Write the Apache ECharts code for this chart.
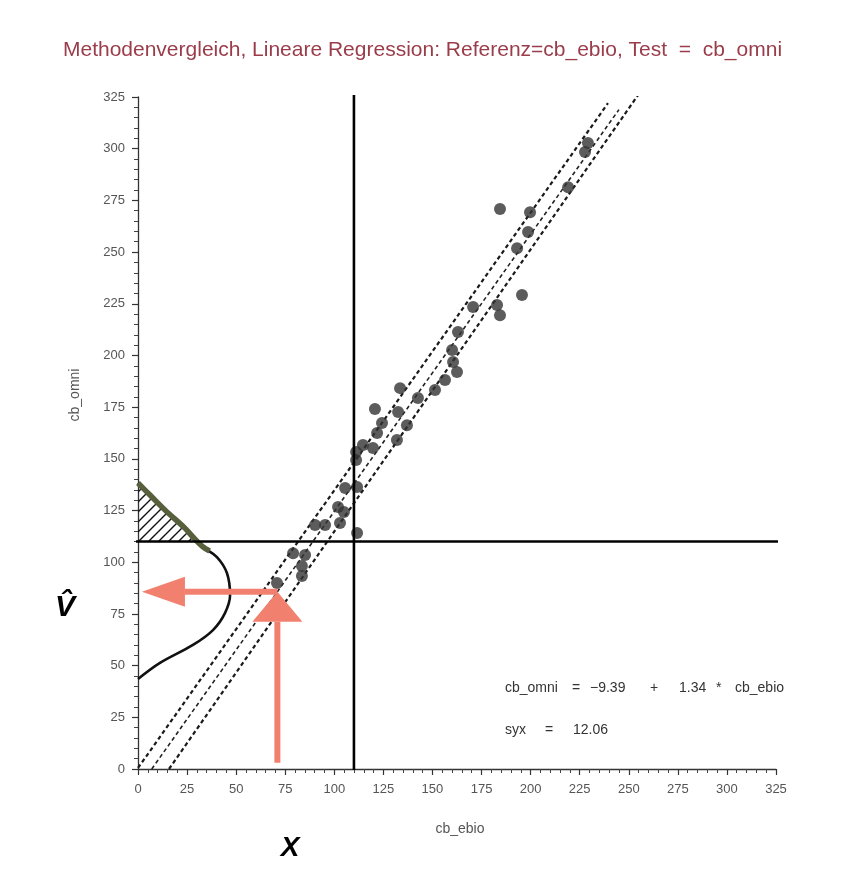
<!DOCTYPE html>
<html>
<head>
<meta charset="utf-8">
<script src="https://cdn.jsdelivr.net/npm/echarts@6/dist/echarts.min.js"></script>
<style>
  html, body { margin: 0; padding: 0; background: #fff; }
  #chart { width: 845px; height: 881px; }
</style>
</head>
<body>
<div id="chart"></div>
<script>
// Axis ticks (both axes share the same scale)
const tickValues = [0, 25, 50, 75, 100, 125, 150, 175, 200, 225, 250, 275, 300, 325];

// Paired measurements: [cb_ebio, cb_omni]
const samples = [
  [229.2, 302.7], [227.7, 298.4], [219.1, 281.4], [184.4, 270.8], [199.7, 269.3],
  [198.7, 259.7], [193.1, 251.9], [195.6, 229.2], [170.7, 223.4], [182.9, 224.4],
  [184.4, 219.5], [163.0, 211.3], [160.0, 202.6], [160.5, 196.8], [162.5, 192.0],
  [156.4, 188.1], [151.3, 183.3], [133.5, 184.2], [142.6, 179.4], [120.7, 174.1],
  [132.5, 172.6], [137.0, 166.3], [124.3, 167.3], [121.8, 162.5], [131.9, 159.1],
  [119.7, 155.2], [114.6, 156.7], [111.1, 153.3], [111.1, 149.4], [105.5, 135.9],
  [111.6, 136.4], [101.9, 126.7], [104.9, 124.3], [90.2, 118.0], [95.3, 118.0],
  [102.9, 119.0], [111.6, 114.1], [79.0, 104.4], [85.1, 103.5], [83.5, 98.2],
  [83.5, 93.3], [70.8, 90.0]
];

// Regression result
const intercept = -9.39;
const slope = 1.34;
const syx = 12.06;
const regressionRange = [7, 245];

// Confidence band limits
const upperBand = [[0, 0.5], [239.4, 322.0]];
const lowerBand = [[15.8, 0], [254.7, 325.9]];

// Decision limit on both methods
const cutoff = 110;
const cutoffHLine = [[-5, cutoff], [328, cutoff]];
const cutoffVLine = [[cutoff, -0.5], [cutoff, 326]];

// Predicted value for a given reference value
const predX = 71;
const predY = 85.7;
const arrowStartY = 3;
const arrowTipX = 2;

// Distribution of the predicted value, drawn along the y axis
const densityCurve = [
  [0, 43.5], [11.2, 51.3], [28.0, 60.0], [38.2, 67.2], [44.3, 75.4], [46.9, 84.1],
  [45.3, 94.8], [40.2, 102.5], [33.1, 107.4], [28.0, 112.2], [23.9, 116.5],
  [13.8, 125.2], [6.1, 132.5], [0, 138.3]
];
const densityTail = [
  [36.5, 105.4], [33.1, 107.4], [28.0, 112.2], [23.9, 116.5], [13.8, 125.2], [6.1, 132.5], [0, 138.3]
];
const tailArea = [
  [0, cutoff], [30.3, cutoff], [28.0, 112.2], [23.9, 116.5], [13.8, 125.2], [6.1, 132.5], [0, 138.3]
];

const regressionLine = regressionRange.map(x => [x, intercept + slope * x]);

// diagonal hatch pattern
const hatch = document.createElement('canvas');
hatch.width = 10; hatch.height = 10;
const hg = hatch.getContext('2d');
hg.strokeStyle = '#111'; hg.lineWidth = 1.4;
hg.beginPath();
hg.moveTo(0, 10); hg.lineTo(10, 0);
hg.moveTo(-5, 5); hg.lineTo(5, -5);
hg.moveTo(5, 15); hg.lineTo(15, 5);
hg.stroke();

const ARROW = '#f2806f';
function arrow(p0, p1, shaft, headLen, headHalf) {
  const dx = p1[0] - p0[0], dy = p1[1] - p0[1];
  const L = Math.hypot(dx, dy);
  const ux = dx / L, uy = dy / L, nx = -uy, ny = ux;
  const b = [p1[0] - ux * headLen, p1[1] - uy * headLen];
  return [
    { type: 'line', shape: { x1: p0[0], y1: p0[1], x2: b[0], y2: b[1] },
      style: { stroke: ARROW, lineWidth: shaft } },
    { type: 'polygon', shape: { points: [p1, [b[0] + nx * headHalf, b[1] + ny * headHalf], [b[0] - nx * headHalf, b[1] - ny * headHalf]] },
      style: { fill: ARROW } }
  ];
}

const fmt = v => (v < 0 ? '\u2212' : '') + Math.abs(v).toFixed(2);
const FONT = "'Liberation Sans', Arial, sans-serif";

// small helper for the annotation text pieces
const note = (x, y, text) => ({
  type: 'text', x, y,
  style: { text, fill: '#333', font: '14px ' + FONT, align: 'left', verticalAlign: 'middle' }
});

const chart = echarts.init(document.getElementById('chart'), null, { renderer: 'canvas' });

const axisCommon = {
  type: 'value',
  min: tickValues[0],
  max: tickValues[tickValues.length - 1],
  interval: tickValues[1] - tickValues[0],
  splitLine: { show: false },
  axisLine: { show: true, onZero: false, lineStyle: { color: '#333', width: 1.3 } },
  axisTick: { show: true, length: 6, lineStyle: { color: '#333', width: 1.2 } },
  minorTick: { show: true, splitNumber: 5, length: 4, lineStyle: { color: '#444', width: 1 } },
  axisLabel: { color: '#555', fontSize: 13, fontFamily: FONT }
};

chart.setOption({
  backgroundColor: '#fff',
  animation: false,
  title: {
    text: 'Methodenvergleich, Lineare Regression: Referenz=cb_ebio, Test  =  cb_omni',
    left: 'center',
    top: 35,
    textStyle: { color: '#9a3c4a', fontSize: 21, fontWeight: 'normal', fontFamily: FONT }
  },
  grid: { left: 138, right: 69, top: 97, bottom: 112 },
  xAxis: Object.assign({}, axisCommon, {
    axisLabel: Object.assign({}, axisCommon.axisLabel, { margin: 14 })
  }),
  yAxis: Object.assign({}, axisCommon, {
    axisLabel: Object.assign({}, axisCommon.axisLabel, { margin: 13 })
  }),
  graphic: [
    { type: 'text', x: 75, y: 395, rotation: Math.PI / 2,
      style: { text: 'cb_omni', fill: '#555', font: '14px ' + FONT, align: 'center', verticalAlign: 'middle' } },
    { type: 'text', x: 460, y: 829,
      style: { text: 'cb_ebio', fill: '#555', font: '14px ' + FONT, align: 'center', verticalAlign: 'middle' } },
    note(505, 688, 'cb_omni'), note(572, 688, '='), note(590, 688, fmt(intercept)),
    note(650, 688, '+'), note(679, 688, slope.toFixed(2)), note(716, 688, '*'), note(735, 688, 'cb_ebio'),
    note(505, 730, 'syx'), note(545, 730, '='), note(573, 730, syx.toFixed(2)),
    { type: 'text', x: 65, y: 608,
      style: { text: 'V\u0302', fill: '#000', font: 'italic bold 30px ' + FONT, align: 'center', verticalAlign: 'middle' } },
    { type: 'text', x: 290, y: 848,
      style: { text: 'X', fill: '#000', font: 'italic bold 28px ' + FONT, align: 'center', verticalAlign: 'middle' } }
  ],
  series: [
    {
      name: 'tail', type: 'custom', z: 3, silent: true,
      data: [0],
      renderItem: (params, api) => ({
        type: 'polygon',
        shape: { points: tailArea.map(p => api.coord(p)) },
        style: { fill: { image: hatch, repeat: 'repeat' } }
      })
    },
    {
      name: 'density', type: 'line', data: densityCurve, smooth: 0.35, showSymbol: false, z: 4,
      lineStyle: { color: '#111', width: 2.6 }, silent: true
    },
    {
      name: 'densityTail', type: 'line', data: densityTail, smooth: 0.35, showSymbol: false, z: 5,
      lineStyle: { color: '#56603c', width: 5.5 }, silent: true
    },
    {
      name: 'upperBand', type: 'line', data: upperBand, showSymbol: false, z: 4,
      lineStyle: { color: '#1a1a1a', width: 2.2, type: [4, 3] }, silent: true
    },
    {
      name: 'regression', type: 'line', data: regressionLine, showSymbol: false, z: 4,
      lineStyle: { color: '#222', width: 1.6, type: [4, 3] }, silent: true
    },
    {
      name: 'lowerBand', type: 'line', data: lowerBand, showSymbol: false, z: 4,
      lineStyle: { color: '#1a1a1a', width: 2.2, type: [4, 3] }, silent: true
    },
    {
      name: 'samples', type: 'scatter', data: samples, symbol: 'circle', symbolSize: 12, z: 6,
      itemStyle: { color: '#333' }
    },
    {
      name: 'cutoffH', type: 'line', data: cutoffHLine, showSymbol: false, clip: false, z: 7,
      lineStyle: { color: '#000', width: 2.6 }, silent: true
    },
    {
      name: 'cutoffV', type: 'line', data: cutoffVLine, showSymbol: false, clip: false, z: 7,
      lineStyle: { color: '#000', width: 2.6 }, silent: true
    },
    {
      name: 'prediction', type: 'custom', z: 8, silent: true, clip: false,
      data: [0],
      renderItem: (params, api) => {
        const foot = api.coord([predX, arrowStartY]);
        const hit = api.coord([predX, predY]);
        const tip = api.coord([arrowTipX, predY]);
        return {
          type: 'group',
          children: arrow(foot, hit, 6, 30, 25).concat(arrow(hit, tip, 6, 43, 15))
        };
      }
    }
  ]
});
</script>
</body>
</html>
